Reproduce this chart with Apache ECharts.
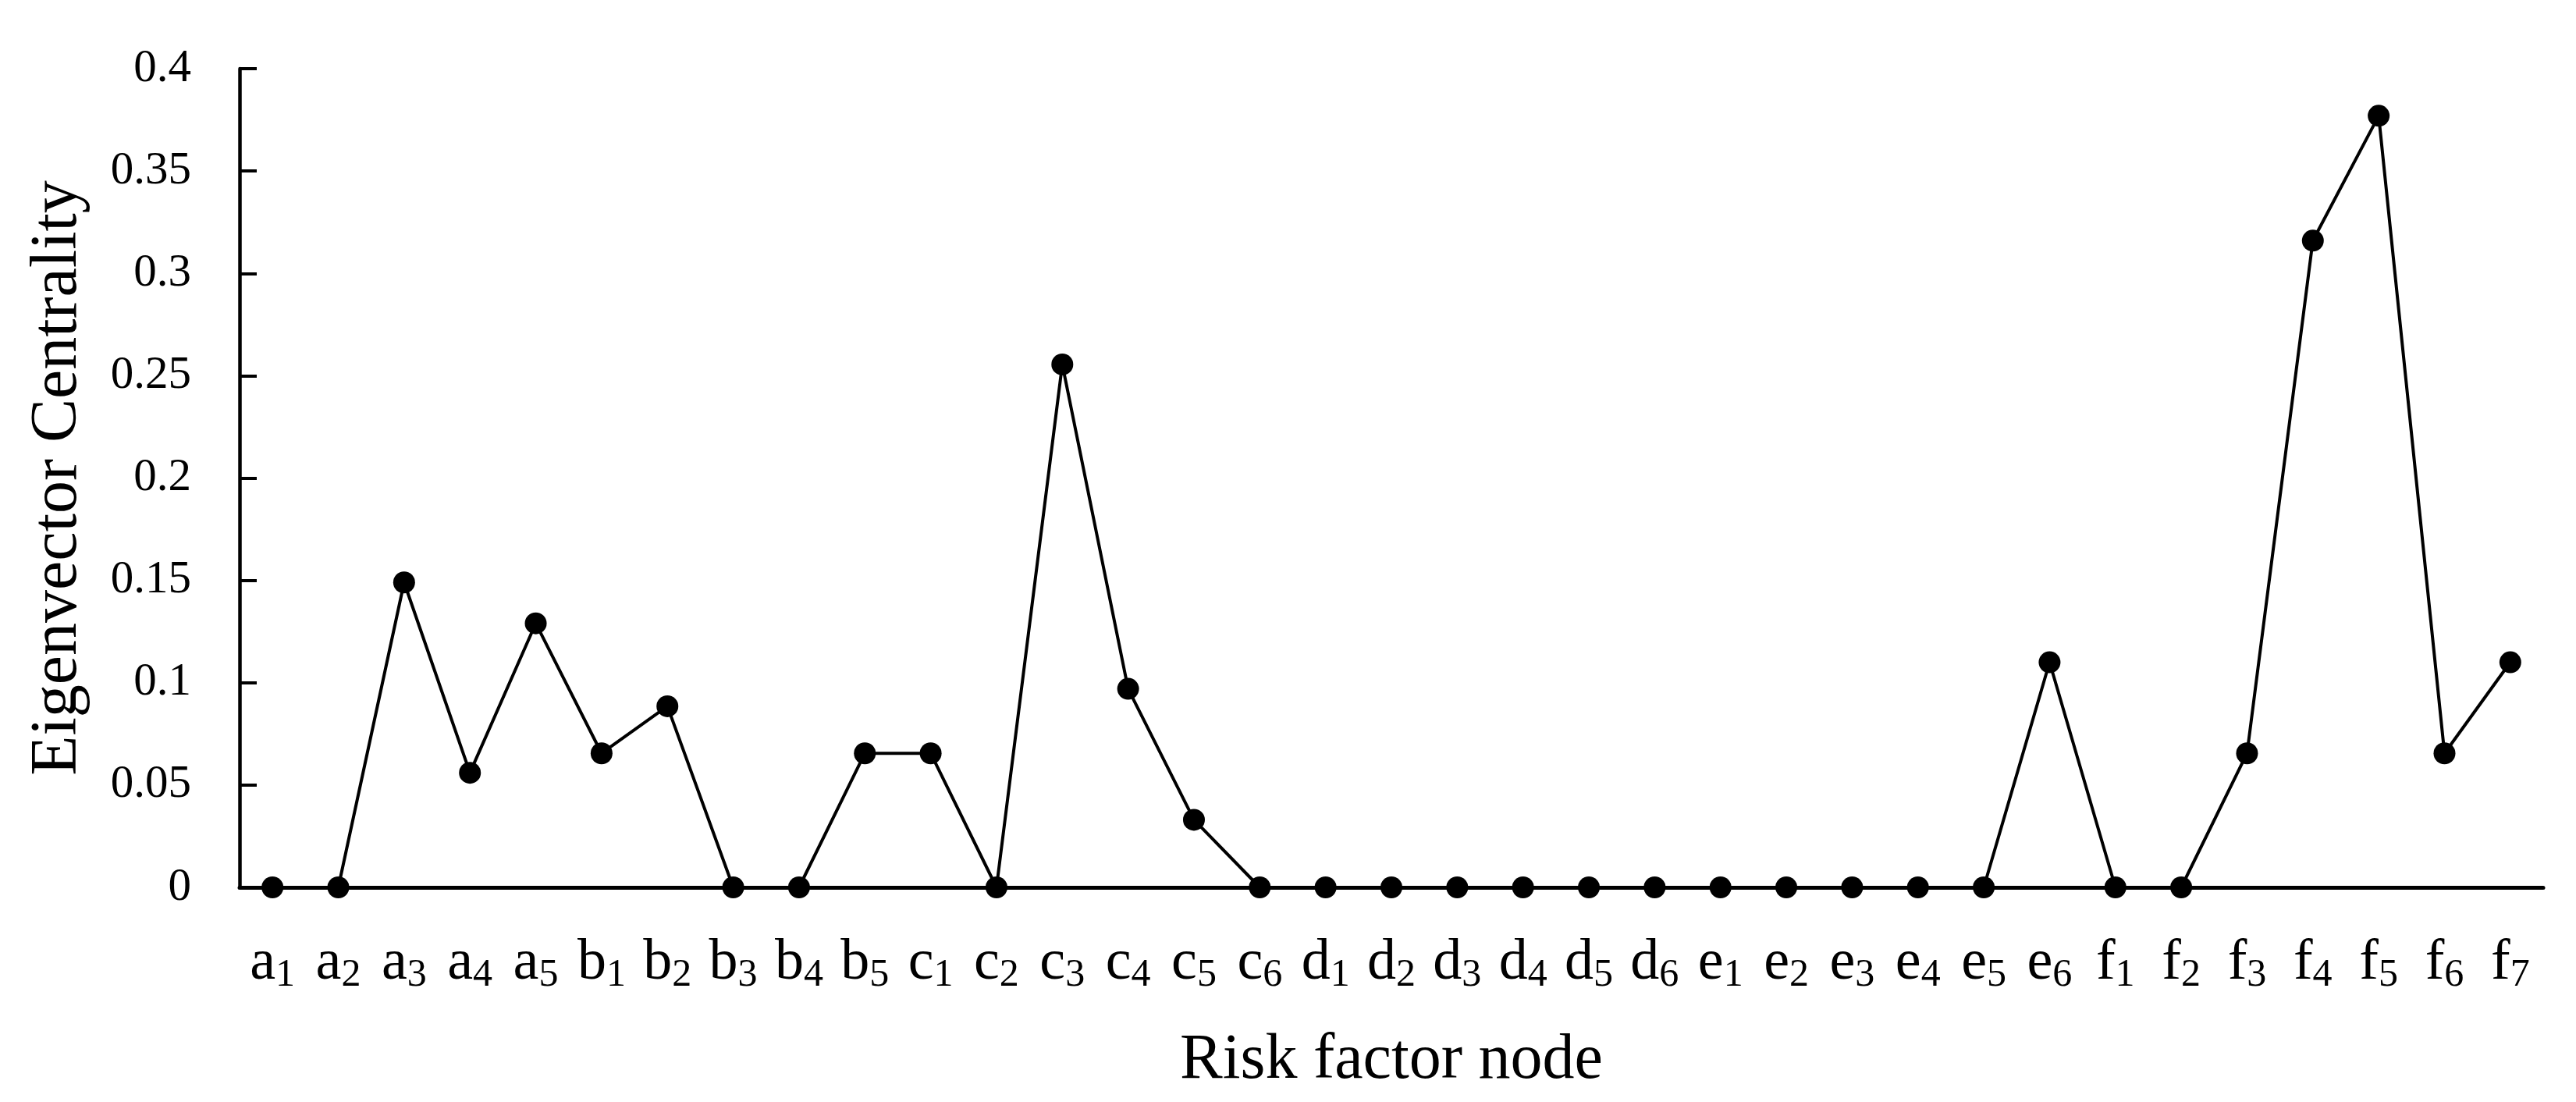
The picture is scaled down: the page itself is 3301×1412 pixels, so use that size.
<!DOCTYPE html>
<html>
<head>
<meta charset="utf-8">
<script src="https://cdn.jsdelivr.net/npm/echarts@6/dist/echarts.min.js"></script>
<style>
html,body{margin:0;padding:0;background:#fff;}
#chart{width:3301px;height:1412px;}
</style>
</head>
<body>
<div id="chart"></div>
<script>
// Category letters and subscripts
const categoryLetters = ['a','a','a','a','a','b','b','b','b','b','c','c','c','c','c','c','d','d','d','d','d','d','e','e','e','e','e','e','f','f','f','f','f','f','f'];
const categorySubs    = ['1','2','3','4','5','1','2','3','4','5','1','2','3','4','5','6','1','2','3','4','5','6','1','2','3','4','5','6','1','2','3','4','5','6','7'];
const categories = categoryLetters.map((l, i) => l + categorySubs[i]);
// Eigenvector centrality values
const centrality = [0, 0, 0.149, 0.056, 0.129, 0.0655, 0.0885, 0, 0, 0.0655,
                    0.0655, 0, 0.2555, 0.097, 0.033, 0,
                    0, 0, 0, 0, 0, 0,
                    0, 0, 0, 0, 0, 0.110,
                    0, 0, 0.0655, 0.316, 0.377, 0.0655, 0.110];
const yTicks = [0, 0.05, 0.1, 0.15, 0.2, 0.25, 0.3, 0.35, 0.4];

const chart = echarts.init(document.getElementById('chart'), null, {renderer: 'canvas'});
const serif = '"Liberation Serif", "DejaVu Serif", serif';
chart.setOption({
  animation: false,
  backgroundColor: '#fff',
  grid: {left: 307, right: 42, top: 88, bottom: 275},
  xAxis: {
    type: 'category',
    data: categories,
    boundaryGap: true,
    name: 'Risk factor node',
    nameLocation: 'middle',
    nameGap: 181,
    nameTextStyle: {fontFamily: serif, fontSize: 82, color: '#000'},
    axisLine: {lineStyle: {color: '#000', width: 5}},
    axisTick: {inside: true, length: 22, alignWithLabel: false, lineStyle: {color: '#000', width: 3.5}},
    axisLabel: {
      interval: 0,
      margin: 58,
      color: '#000',
      formatter: function (v, i) { return '{b|' + categoryLetters[i] + '}{s|' + categorySubs[i] + '}'; },
      rich: {
        b: {fontFamily: serif, fontSize: 74, color: '#000', lineHeight: 80},
        s: {fontFamily: serif, fontSize: 50, color: '#000', lineHeight: 50, verticalAlign: 'bottom'}
      }
    },
    splitLine: {show: false}
  },
  yAxis: {
    type: 'value',
    min: 0,
    max: 0.4,
    interval: 0.05,
    name: 'Eigenvector Centrality',
    nameLocation: 'middle',
    nameGap: 190,
    nameRotate: 90,
    nameTextStyle: {fontFamily: serif, fontSize: 84, color: '#000'},
    axisLine: {show: true, lineStyle: {color: '#000', width: 4.5}},
    axisTick: {show: true, inside: true, length: 22, lineStyle: {color: '#000', width: 4}},
    axisLabel: {
      margin: 62,
      fontFamily: serif,
      fontSize: 59,
      color: '#000',
      formatter: function (v) { return String(Math.round(v * 100) / 100); }
    },
    splitLine: {show: false}
  },
  series: [{
    type: 'line',
    data: centrality,
    symbol: 'circle',
    symbolSize: 28,
    itemStyle: {color: '#000'},
    lineStyle: {color: '#000', width: 4},
    clip: false
  }]
});
</script>
</body>
</html>
